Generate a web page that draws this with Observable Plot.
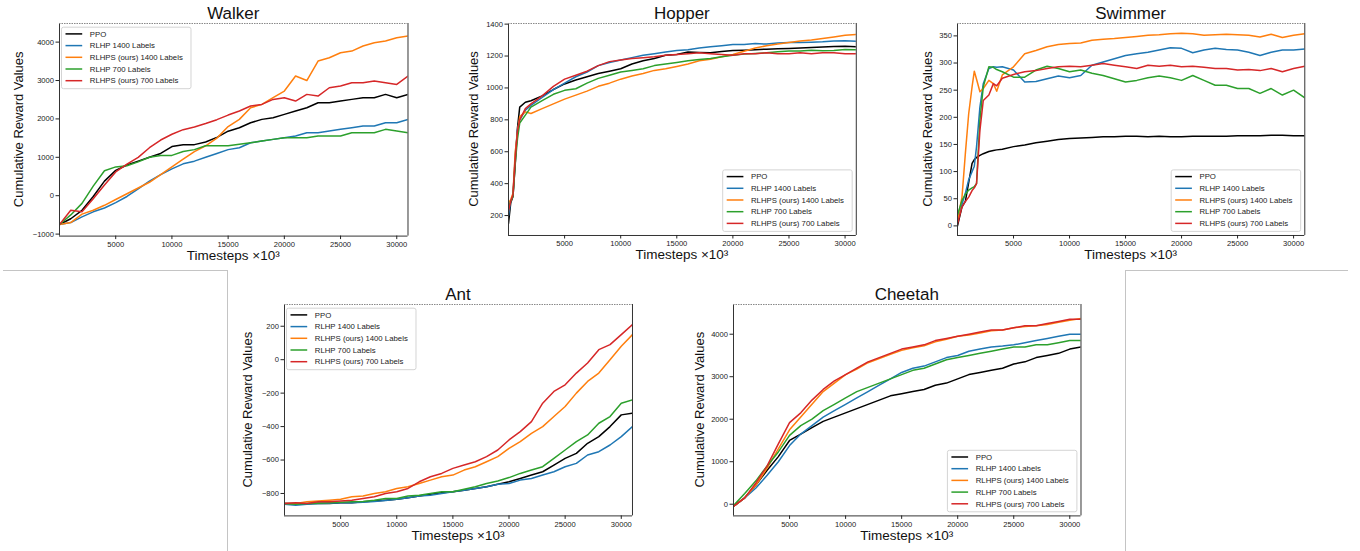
<!DOCTYPE html>
<html><head><meta charset="utf-8">
<script src="https://cdn.jsdelivr.net/npm/d3@7"></script>
<script src="https://cdn.jsdelivr.net/npm/@observablehq/plot@0.6"></script>
<style>
body{margin:0;background:#fff;}
#page{position:relative;width:1360px;height:551px;overflow:hidden;background:#fff;font-family:"Liberation Sans",Arial,sans-serif;}
.panel{position:absolute;}
.sep{position:absolute;background:#c4c4c4;}
</style></head><body><div id="page"></div>
<script>
// ---------- shared categories ----------
const seriesNames = ["PPO","RLHP 1400 Labels","RLHPS (ours) 1400 Labels","RLHP 700 Labels","RLHPS (ours) 700 Labels"];
const seriesColors = ["#000000","#1f77b4","#ff7f0e","#2ca02c","#d62728"];
const xTickValues = [5000,10000,15000,20000,25000,30000];
const steps = [0,1000,2000,3000,4000,5000,6000,7000,8000,9000,10000,11000,12000,13000,14000,15000,16000,17000,18000,19000,20000,21000,22000,23000,24000,25000,26000,27000,28000,29000,30000,31000];

// ---------- Walker ----------
const walkerPPO    = [-750,-600,-380,-20,380,660,800,900,1000,1100,1280,1330,1330,1400,1520,1680,1771,1900,1988,2031,2118,2205,2292,2422,2422,2465,2509,2552,2552,2639,2552,2639];
const walkerRLHP14 = [-750,-700,-550,-420,-320,-180,-20,180,380,550,700,830,900,1000,1100,1200,1250,1380,1424,1467,1510,1554,1641,1641,1684,1728,1771,1814,1814,1901,1901,1988];
const walkerRLHPS14= [-750,-700,-480,-380,-250,-100,50,200,350,550,750,950,1150,1300,1500,1800,1988,2292,2378,2552,2726,3116,3000,3507,3594,3724,3767,3898,3984,4028,4115,4158];
const walkerRLHP7  = [-750,-500,-200,250,650,750,780,880,1000,1050,1050,1150,1200,1300,1300,1300,1337,1380,1424,1467,1510,1510,1510,1554,1554,1554,1641,1641,1641,1728,1684,1641];
const walkerRLHPS7 = [-750,-380,-420,-80,280,620,820,1000,1250,1450,1600,1720,1790,1880,1980,2100,2205,2335,2378,2508,2552,2465,2639,2595,2812,2856,2942,2942,2986,2942,2899,3116];
const walkerYTicks = [-1000,0,1000,2000,3000,4000];

// ---------- Hopper ----------
const hopperSteps = [0,200,400,600,800,1000,1500,2000,3000,4000,5000,6000,7000,8000,9000,10000,11000,12000,13000,14000,15000,16000,17000,18000,19000,20000,21000,22000,23000,24000,25000,26000,27000,28000,29000,30000,31000];
const hopperPPO    = [150,280,320,520,750,880,910,920,950,990,1025,1050,1070,1090,1105,1120,1150,1170,1185,1205,1210,1225,1222,1220,1228,1235,1237,1240,1243,1245,1248,1250,1253,1257,1260,1262,1258];
const hopperRLHP14 = [200,290,330,580,740,800,860,890,940,990,1030,1070,1100,1140,1160,1175,1190,1205,1215,1225,1235,1240,1250,1258,1265,1272,1272,1278,1275,1282,1285,1285,1287,1290,1295,1296,1292];
const hopperRLHPS14= [280,300,340,600,720,820,850,840,870,900,930,955,980,1010,1030,1055,1075,1090,1110,1120,1135,1150,1170,1180,1195,1210,1230,1250,1265,1275,1285,1295,1300,1310,1320,1330,1335];
const hopperRLHP7  = [250,290,320,530,680,780,830,880,920,960,985,995,1030,1060,1080,1100,1110,1120,1140,1150,1160,1170,1178,1185,1195,1205,1212,1216,1220,1227,1231,1232,1237,1233,1235,1241,1240];
const hopperRLHPS7 = [230,290,330,560,730,800,870,900,950,1010,1055,1080,1105,1140,1165,1175,1185,1190,1195,1205,1210,1215,1220,1215,1210,1205,1215,1215,1220,1215,1215,1220,1215,1220,1220,1215,1215];
const hopperYTicks = [200,400,600,800,1000,1200,1400];

// ---------- Swimmer ----------
const swimmerSteps = [0,400,700,1000,1300,1500,1700,2000,2300,2800,3200,3500,4000,5000,6000,7000,8000,9000,10000,11000,12000,13000,14000,15000,16000,17000,18000,19000,20000,21000,22000,23000,24000,25000,26000,27000,28000,29000,30000,31000];
const swimmerPPO    = [0,35,45,80,115,122,126,130,133,137,139,140,141,146,149,153,156,159,161,162,163,164,164,165,165,164,165,164,164,165,165,165,165,166,166,166,167,167,166,166];
const swimmerRLHP14 = [15,40,60,85,100,110,146,219,262,290,293,292,293,287,265,266,271,276,273,277,296,302,308,314,317,320,324,328,327,319,324,327,325,324,320,314,320,324,324,326];
const swimmerRLHPS14= [10,53,133,207,256,285,270,247,253,268,262,248,278,293,317,323,330,334,336,337,342,344,345,347,349,351,352,354,355,354,351,352,353,352,351,348,353,347,351,354];
const swimmerRLHP7  = [20,47,58,66,70,72,78,195,256,293,292,288,284,274,274,287,294,290,284,287,281,277,271,265,268,273,276,273,268,277,268,259,259,253,253,244,253,241,250,236];
const swimmerRLHPS7 = [4,35,45,53,65,70,78,176,231,241,262,258,272,279,284,286,290,293,294,293,296,299,296,293,290,296,294,296,293,294,292,290,290,287,288,286,290,284,290,294];
const swimmerYTicks = [0,50,100,150,200,250,300,350];

// ---------- Ant ----------
const antPPO    = [-860,-860,-862,-858,-860,-855,-855,-850,-845,-840,-835,-825,-815,-805,-795,-790,-780,-770,-760,-745,-730,-710,-690,-670,-630,-590,-560,-500,-460,-400,-330,-320];
const antRLHP14 = [-865,-870,-865,-860,-858,-856,-855,-852,-848,-842,-835,-825,-815,-810,-800,-790,-780,-770,-760,-745,-740,-720,-710,-690,-670,-640,-620,-570,-550,-510,-460,-400];
const antRLHPS14= [-860,-860,-850,-845,-840,-835,-820,-815,-800,-790,-770,-760,-740,-720,-700,-690,-660,-640,-610,-580,-530,-490,-440,-400,-340,-280,-200,-130,-80,0,80,150];
const antRLHP7  = [-860,-865,-860,-858,-855,-852,-850,-848,-840,-830,-830,-815,-810,-800,-790,-790,-775,-760,-740,-725,-705,-680,-660,-640,-590,-540,-490,-450,-380,-340,-260,-240];
const antRLHPS7 = [-860,-855,-860,-850,-850,-845,-840,-830,-820,-800,-790,-770,-730,-700,-680,-650,-630,-610,-580,-540,-480,-430,-370,-260,-190,-150,-80,-20,60,90,150,210];
const antYTicks = [-800,-600,-400,-200,0,200];

// ---------- Cheetah ----------
const cheetahPPO    = [-50,150,450,800,1120,1500,1650,1800,1950,2050,2150,2250,2350,2450,2550,2600,2650,2700,2800,2850,2950,3050,3100,3150,3200,3300,3350,3450,3500,3550,3650,3700];
const cheetahRLHP14 = [-50,150,380,680,1000,1380,1650,1850,2050,2200,2350,2500,2650,2800,2950,3100,3200,3250,3350,3450,3500,3600,3650,3700,3720,3750,3800,3850,3900,3950,4000,4000];
const cheetahRLHPS14= [-50,150,450,850,1300,1750,2050,2350,2650,2850,3050,3180,3330,3430,3530,3620,3680,3730,3820,3880,3950,3980,4030,4080,4100,4150,4180,4200,4230,4280,4330,4370];
const cheetahRLHP7  = [-30,250,550,900,1230,1620,1850,2000,2200,2350,2500,2650,2750,2850,2950,3050,3150,3200,3300,3400,3450,3500,3550,3600,3650,3700,3700,3750,3750,3800,3850,3850];
const cheetahRLHPS7 = [-50,150,500,900,1420,1920,2150,2450,2700,2900,3050,3200,3350,3450,3550,3650,3700,3750,3850,3900,3950,4000,4050,4100,4100,4150,4200,4200,4250,4300,4350,4350];
const cheetahYTicks = [0,1000,2000,3000,4000];

// ---------- panels ----------
const panels = [
  {title:"Walker",  t:steps,        s:[walkerPPO,walkerRLHP14,walkerRLHPS14,walkerRLHP7,walkerRLHPS7],        L:59,    R:407.5,  T:22.7,  B:235.3, yd:[-1052,4485], yt:walkerYTicks, yl:35.7, leg:"tl"},
  {title:"Hopper",  t:hopperSteps,  s:[hopperPPO,hopperRLHP14,hopperRLHPS14,hopperRLHP7,hopperRLHPS7],        L:508,   R:855.8,  T:23.3,  B:235.3, yd:[75,1404],    yt:hopperYTicks, yl:29.7, leg:"br"},
  {title:"Swimmer", t:swimmerSteps, s:[swimmerPPO,swimmerRLHP14,swimmerRLHPS14,swimmerRLHP7,swimmerRLHPS7],   L:957,   R:1304.3, T:23.3,  B:235.3, yd:[-17.7,372.8],yt:swimmerYTicks,yl:25.3, leg:"br"},
  {title:"Ant",     t:steps,        s:[antPPO,antRLHP14,antRLHPS14,antRLHP7,antRLHPS7],                       L:283.5, R:631.5,  T:304.3, B:515.7, yd:[-934,330],   yt:antYTicks,    yl:31.8, leg:"tl"},
  {title:"Cheetah", t:steps,        s:[cheetahPPO,cheetahRLHP14,cheetahRLHPS14,cheetahRLHP7,cheetahRLHPS7],   L:732.5, R:1080,   T:304.3, B:515.7, yd:[-275,4699],  yt:cheetahYTicks,yl:29.2, leg:"br"}
];

const page = document.getElementById("page");
const fmt = d3.format("d");
const ML = 55, MR = 8, MT = 22, MB = 34;

panels.forEach(p => {
  const fw = p.R - p.L, fh = p.B - p.T;
  const W = fw + ML + MR, H = fh + MT + MB;
  const xd = [0, 31000];
  const marks = [];
  p.s.forEach((vals, i) => {
    const data = p.t.map((t, j) => ({t, v: vals[j]}));
    marks.push(Plot.line(data, {x: "t", y: "v", stroke: seriesColors[i], strokeWidth: 1.5, clip: true}));
  });
  marks.push(Plot.ruleX(xd, {stroke: "#333"}));
  marks.push(Plot.ruleY([p.yd[0]], {stroke: "#333"}));
  marks.push(Plot.ruleY([p.yd[1]], {stroke: "#888", strokeDasharray: "1.5,1"}));
  marks.push(Plot.axisX({ticks: xTickValues, tickFormat: fmt, tickSize: 3.5, tickPadding: 2, label: null}));
  marks.push(Plot.axisY({ticks: p.yt, tickFormat: fmt, tickSize: 3.5, tickPadding: 2, label: null}));
  const svg = Plot.plot({
    width: W, height: H,
    marginLeft: ML, marginRight: MR, marginTop: MT, marginBottom: MB,
    x: {domain: xd}, y: {domain: p.yd},
    style: {fontFamily: '"Liberation Sans", Arial, sans-serif', fontSize: "7.6px", color: "#222", background: "transparent", overflow: "visible"},
    marks
  });
  const g = d3.select(svg).append("g").attr("font-family", '"Liberation Sans", Arial, sans-serif').attr("fill", "#111").attr("font-weight", "normal");
  g.append("text").attr("x", ML + fw/2).attr("y", MT - 4).attr("text-anchor", "middle").attr("font-size", 17).text(p.title);
  g.append("text").attr("x", ML + fw/2).attr("y", MT + fh + 24.3).attr("text-anchor", "middle").attr("font-size", 13.5).text("Timesteps \u00d710\u00b3");
  g.append("text").attr("transform", `translate(${ML - p.yl},${MT + fh/2}) rotate(-90)`).attr("text-anchor", "middle").attr("font-size", 13).text("Cumulative Reward Values");
  // legend
  const lw = 129.5, lh = 61.5;
  const lx = p.leg === "tl" ? ML + 2.5 : ML + fw - 3.6 - lw;
  const ly = p.leg === "tl" ? MT + 4.2 : MT + fh - 3.6 - lh;
  const lg = g.append("g").attr("transform", `translate(${lx},${ly})`);
  lg.append("rect").attr("width", lw).attr("height", lh).attr("rx", 2).attr("fill", "white").attr("fill-opacity", 0.85).attr("stroke", "#d4d4d4").attr("stroke-width", 1);
  seriesNames.forEach((name, i) => {
    const yy = 6.7 + i * 11.7;
    lg.append("line").attr("x1", 4).attr("x2", 20.7).attr("y1", yy).attr("y2", yy).attr("stroke", seriesColors[i]).attr("stroke-width", 1.5);
    lg.append("text").attr("x", 28.3).attr("y", yy).attr("dy", "0.35em").attr("text-anchor", "start").attr("font-size", 7.8).attr("fill", "#222").text(name);
  });
  const div = document.createElement("div");
  div.className = "panel";
  div.style.left = (p.L - ML) + "px";
  div.style.top = (p.T - MT) + "px";
  div.appendChild(svg);
  page.appendChild(div);
});

// separators
[[3,270,225,1],[227,270,1,281],[1125,270,223,1],[1125,270,1,281]].forEach(([l,t,w,h]) => {
  const d = document.createElement("div");
  d.className = "sep";
  Object.assign(d.style, {left: l + "px", top: t + "px", width: w + "px", height: h + "px"});
  page.appendChild(d);
});
</script></body></html>
